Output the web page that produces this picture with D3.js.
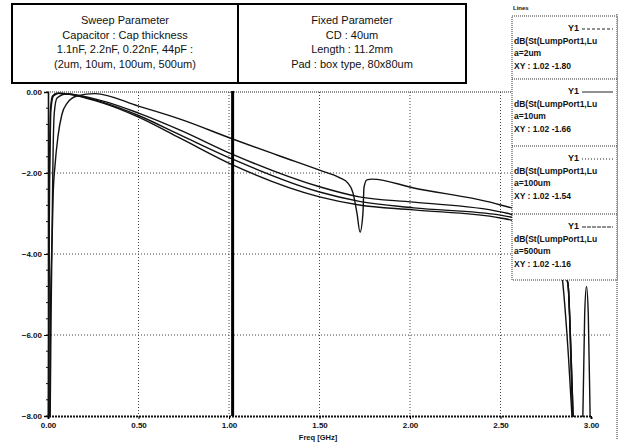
<!DOCTYPE html>
<html>
<head>
<meta charset="utf-8">
<script src="https://cdn.jsdelivr.net/npm/d3@7"></script>
<style>
  body { margin: 0; background: #fff; }
  text { font-family: "Liberation Sans", Arial, sans-serif; fill: #111; }
</style>
</head>
<body>
<div id="chart"></div>
<script>
// ---- data ----
var xTicks = [0, 0.5, 1.0, 1.5, 2.0, 2.5, 3.0];
var yTicks = [0, -2, -4, -6, -8];

var freq2um = [0.002, 0.006, 0.010, 0.014, 0.025, 0.05, 0.3, 0.5, 0.73, 1.02, 1.5, 1.72, 2.02, 2.5, 2.7, 2.8, 2.873, 2.89, 2.905];
var db2um   = [-8.6, -3.0, -1.2, -0.4, -0.1, -0.03, -0.27, -0.62, -1.14, -1.80, -2.59, -2.79, -2.91, -3.11, -3.40, -3.85, -4.75, -6.5, -8.5];

var freq10um = [0.003, 0.007, 0.012, 0.016, 0.03, 0.06, 0.3, 0.5, 0.73, 1.02, 1.5, 1.72, 2.02, 2.5, 2.7, 2.8, 2.873, 2.89, 2.905];
var db10um   = [-8.6, -3.5, -1.3, -0.45, -0.1, -0.03, -0.25, -0.58, -1.06, -1.66, -2.47, -2.70, -2.86, -3.04, -3.35, -3.8, -4.75, -6.5, -8.5];

var freq100um = [0.008, 0.015, 0.022, 0.028, 0.035, 0.05, 0.1, 0.3, 0.5, 0.73, 1.02, 1.5, 1.72, 2.02, 2.5, 2.7, 2.8, 2.873, 2.9, 2.93, 2.955, 2.965, 2.975, 2.985, 2.995, 3.0];
var db100um   = [-8.6, -5.0, -3.6, -1.5, -0.5, -0.15, -0.05, -0.22, -0.52, -0.94, -1.54, -2.34, -2.59, -2.72, -2.96, -3.25, -3.7, -4.75, -8.2, -9.5, -8.0, -5.5, -4.8, -5.5, -8.0, -9.5];

var freq500um = [0.011, 0.017, 0.022, 0.028, 0.039, 0.055, 0.077, 0.105, 0.16, 0.26, 0.5, 0.73, 1.02, 1.28, 1.5, 1.613, 1.657, 1.685, 1.707, 1.724, 1.74, 1.746, 1.762, 1.79, 2.02, 2.5, 2.7, 2.8, 2.845, 2.875, 2.9];
var db500um   = [-8.6, -5.5, -3.8, -2.6, -1.8, -1.1, -0.55, -0.28, -0.1, -0.04, -0.35, -0.67, -1.16, -1.58, -1.93, -2.12, -2.25, -2.49, -2.99, -3.46, -2.99, -2.35, -2.17, -2.15, -2.37, -2.79, -3.1, -3.6, -4.75, -6.5, -8.4];

var seriesNames = ["a=2um", "a=10um", "a=100um", "a=500um"];
var markerFreq = 1.02;
var markerValues = ["-1.80", "-1.66", "-1.54", "-1.16"];

var sweepText = ["Sweep Parameter", "Capacitor : Cap thickness", "1.1nF, 2.2nF, 0.22nF, 44pF :", "(2um, 10um, 100um, 500um)"];
var fixedText = ["Fixed Parameter", "CD : 40um", "Length : 11.2mm", "Pad : box type, 80x80um"];

// ---- layout ----
var svgWidth = 619;
var svgHeight = 446;

var svg = d3.select("#chart")
  .append("svg")
  .attr("width", svgWidth)
  .attr("height", svgHeight);

var xScale = d3.scaleLinear().domain([0, 3]).range([48, 591]);
var yScale = d3.scaleLinear().domain([-8, 0]).range([416, 92]);

// clip for the traces
svg.append("clipPath")
  .attr("id", "plotclip")
  .append("rect")
  .attr("x", 47)
  .attr("y", 91)
  .attr("width", 571)
  .attr("height", 326);

// dotted grid
svg.append("g")
  .selectAll("line")
  .data(xTicks.slice(1, -1))
  .enter()
  .append("line")
  .attr("x1", d => xScale(d))
  .attr("x2", d => xScale(d))
  .attr("y1", yScale(0))
  .attr("y2", yScale(-8))
  .attr("stroke", "#444")
  .attr("stroke-width", 1)
  .attr("stroke-dasharray", "1,2");

svg.append("g")
  .selectAll("line")
  .data(yTicks.slice(1, -1))
  .enter()
  .append("line")
  .attr("x1", xScale(0))
  .attr("x2", 612)
  .attr("y1", d => yScale(d))
  .attr("y2", d => yScale(d))
  .attr("stroke", "#444")
  .attr("stroke-width", 1)
  .attr("stroke-dasharray", "1,2");

// top dotted frame line and right border
svg.append("line")
  .attr("x1", xScale(0)).attr("x2", 617)
  .attr("y1", yScale(0)).attr("y2", yScale(0))
  .attr("stroke", "#222").attr("stroke-width", 1.2)
  .attr("stroke-dasharray", "1,1");
svg.append("line")
  .attr("x1", 617).attr("x2", 617)
  .attr("y1", 14).attr("y2", 440)
  .attr("stroke", "#333").attr("stroke-width", 1)
  .attr("stroke-dasharray", "1,1");

// left axis (solid) with small ticks
var leftAxis = d3.axisLeft(yScale)
  .tickValues(yTicks)
  .tickSize(4)
  .tickPadding(2)
  .tickFormat(d3.format(".2f"));
var yAxisG = svg.append("g")
  .attr("transform", `translate(${xScale(0)},0)`)
  .call(leftAxis);
yAxisG.select(".domain").attr("stroke", "#111").attr("stroke-width", 1.6);
yAxisG.selectAll("text")
  .style("font-size", "8px")
  .style("font-weight", "bold");

// minor ticks on the y axis
svg.append("g")
  .selectAll("line")
  .data(d3.range(-8, 0.01, 0.4))
  .enter()
  .append("line")
  .attr("x1", xScale(0) - 2)
  .attr("x2", xScale(0))
  .attr("y1", d => yScale(d))
  .attr("y2", d => yScale(d))
  .attr("stroke", "#111");

// bottom axis (dotted heavy line)
var bottomAxis = d3.axisBottom(xScale)
  .tickValues(xTicks)
  .tickSize(3)
  .tickPadding(3)
  .tickFormat(d3.format(".2f"));
var xAxisG = svg.append("g")
  .attr("transform", `translate(0,${yScale(-8)})`)
  .call(bottomAxis);
xAxisG.select(".domain")
  .attr("stroke", "#111")
  .attr("stroke-width", 2)
  .attr("stroke-dasharray", "2,1");
xAxisG.selectAll("text")
  .style("font-size", "8px")
  .style("font-weight", "bold");

svg.append("text")
  .attr("x", 318)
  .attr("y", 440)
  .attr("text-anchor", "middle")
  .style("font-size", "7.5px")
  .style("font-weight", "bold")
  .text("Freq [GHz]");

// traces
var allSeries = [
  d3.zip(freq2um, db2um),
  d3.zip(freq10um, db10um),
  d3.zip(freq100um, db100um),
  d3.zip(freq500um, db500um)
];

var line = d3.line()
  .x(d => xScale(d[0]))
  .y(d => yScale(d[1]))
  .curve(d3.curveMonotoneX);

svg.append("g")
  .attr("clip-path", "url(#plotclip)")
  .selectAll("path")
  .data(allSeries)
  .enter()
  .append("path")
  .attr("d", line)
  .attr("fill", "none")
  .attr("stroke", "#111")
  .attr("stroke-width", 1.4);

// marker line at 1.02 GHz
svg.append("line")
  .attr("x1", xScale(markerFreq))
  .attr("x2", xScale(markerFreq))
  .attr("y1", yScale(0) - 1)
  .attr("y2", yScale(-8))
  .attr("stroke", "#000")
  .attr("stroke-width", 3);

// header boxes
function headerBox(x0, x1, lines) {
  svg.append("rect")
    .attr("x", x0)
    .attr("y", 4)
    .attr("width", x1 - x0)
    .attr("height", 79)
    .attr("fill", "#fff")
    .attr("stroke", "#000")
    .attr("stroke-width", 2);
  svg.append("g")
    .selectAll("text")
    .data(lines)
    .enter()
    .append("text")
    .attr("x", (x0 + x1) / 2)
    .attr("y", (d, i) => 24 + i * 14.5)
    .attr("text-anchor", "middle")
    .style("font-size", "11px")
    .text(d => d);
}
headerBox(12, 238, sweepText);
headerBox(238, 466, fixedText);

// legend on the right
var legX = 512, legW = 105;
var legTops = [16, 79, 146, 214];
var legBottom = 280;
var dashes = ["3,2", "none", "1,2", "4,1"];

svg.append("text")
  .attr("x", legX + 1)
  .attr("y", 10)
  .style("font-size", "6px")
  .style("font-weight", "bold")
  .text("Lines");

svg.append("rect")
  .attr("x", legX)
  .attr("y", legTops[0])
  .attr("width", legW)
  .attr("height", legBottom - legTops[0])
  .attr("fill", "#fff")
  .attr("stroke", "#333")
  .attr("stroke-dasharray", "1,1");

var entries = svg.append("g")
  .selectAll("g")
  .data(seriesNames)
  .enter()
  .append("g")
  .attr("transform", (d, i) => `translate(${legX},${legTops[i]})`);

entries.filter((d, i) => i > 0)
  .append("line")
  .attr("x1", 0).attr("x2", legW)
  .attr("y1", 0).attr("y2", 0)
  .attr("stroke", "#333")
  .attr("stroke-dasharray", "1,1");

entries.append("text")
  .attr("x", 56)
  .attr("y", 15)
  .style("font-size", "9px")
  .style("font-weight", "bold")
  .text("Y1");

entries.append("line")
  .attr("x1", 70).attr("x2", 101)
  .attr("y1", 13).attr("y2", 13)
  .attr("stroke", "#222")
  .attr("stroke-width", 1)
  .attr("stroke-dasharray", (d, i) => dashes[i]);

entries.append("text")
  .attr("x", 2)
  .attr("y", 28)
  .style("font-size", "8.5px")
  .style("font-weight", "bold")
  .text("dB(St(LumpPort1,Lu");

entries.append("text")
  .attr("x", 2)
  .attr("y", 40)
  .style("font-size", "8.5px")
  .style("font-weight", "bold")
  .text(d => d);

entries.append("text")
  .attr("x", 2)
  .attr("y", 53)
  .style("font-size", "8.5px")
  .style("font-weight", "bold")
  .text((d, i) => "XY : " + markerFreq.toFixed(2) + " " + markerValues[i]);
</script>
</body>
</html>
